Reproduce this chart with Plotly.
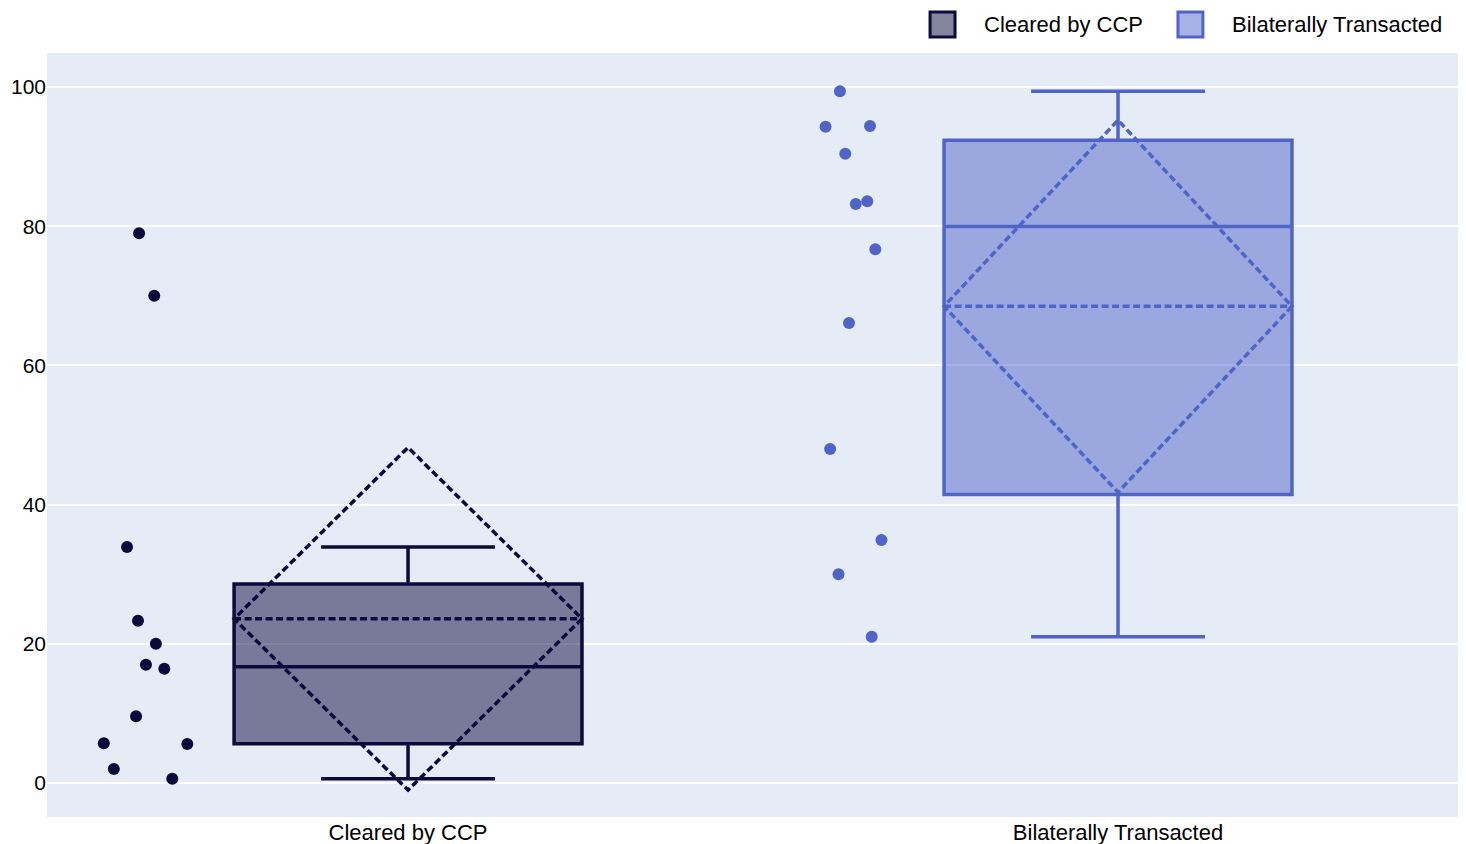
import plotly.graph_objects as go

cleared_vals = [79.0, 70.0, 33.9, 23.3, 20.0, 17.0, 16.4, 9.6, 5.7, 5.6, 2.0, 0.6]
bilateral_vals = [99.4, 94.3, 94.4, 90.4, 83.6, 83.2, 76.7, 66.1, 48.0, 34.9, 30.0, 21.0]
names = ['Cleared by CCP', 'Bilaterally Transacted']

cleared_color = '#0A0A3C'
bilateral_color = '#5064C7'
cleared_fill = 'rgba(10,10,60,0.5)'
bilateral_fill = 'rgba(80,100,199,0.5)'

fig = go.Figure()

fig.add_trace(go.Box(
    y=cleared_vals,
    x=[names[0]] * len(cleared_vals),
    name=names[0],
    boxpoints='all',
    jitter=0.3,
    pointpos=-1.5,
    boxmean='sd',
    fillcolor=cleared_fill,
    marker=dict(color=cleared_color, size=12),
    line=dict(color=cleared_color, width=3.5),
    showlegend=False,
))

fig.add_trace(go.Box(
    y=bilateral_vals,
    x=[names[1]] * len(bilateral_vals),
    name=names[1],
    boxpoints='all',
    jitter=0.3,
    pointpos=-1.5,
    boxmean='sd',
    fillcolor=bilateral_fill,
    marker=dict(color=bilateral_color, size=12),
    line=dict(color=bilateral_color, width=3.5),
    showlegend=False,
))

# legend drawn by hand (bigger swatches than plotly's own legend)
legend_items = [
    (names[0], cleared_color, cleared_fill, 0.6223, 0.6589),
    (names[1], bilateral_color, bilateral_fill, 0.7970, 0.8337),
]
for label, lc, fc, x0, xt in legend_items:
    fig.add_shape(type='rect', xref='paper', yref='paper',
                  x0=x0, x1=x0 + 0.0176, y0=1.0209, y1=1.0537,
                  line=dict(color=lc, width=3), fillcolor=fc)
    fig.add_annotation(xref='paper', yref='paper', x=xt, y=1.0373,
                       text=label, showarrow=False, xanchor='left', yanchor='middle',
                       font=dict(size=22, color='black'))

fig.update_layout(
    width=1458,
    height=836,
    template='plotly',
    font=dict(family='Arial, Liberation Sans, sans-serif', size=21, color='black'),
    margin=dict(l=39, r=0, t=45, b=27),
    showlegend=False,
)
fig.update_xaxes(automargin=False, tickfont=dict(size=22), range=[-0.5085, 1.4901])
fig.update_yaxes(automargin=False, zeroline=False, gridwidth=2, tickfont=dict(size=21))

fig.write_html("out.html")
